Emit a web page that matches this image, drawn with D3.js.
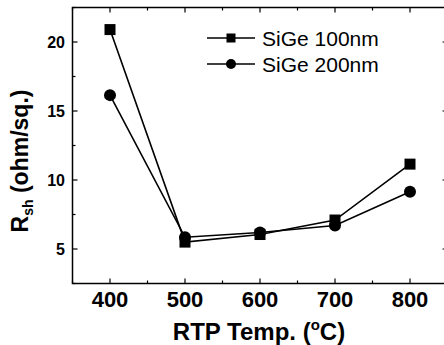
<!DOCTYPE html>
<html><head><meta charset="utf-8">
<script src="https://cdn.jsdelivr.net/npm/d3@7"></script>
<style>body{margin:0;background:#fff}svg{display:block}</style>
</head><body>
<svg id="c" width="444" height="345"></svg>
<script>
const temps = [400, 500, 600, 700, 800];
const sige100 = [20.9, 5.5, 6.05, 7.1, 11.15];
const sige200 = [16.15, 5.85, 6.2, 6.7, 9.15];
const seriesNames = ["SiGe 100nm", "SiGe 200nm"];
const xTicks = [400, 500, 600, 700, 800];
const yTicks = [5, 10, 15, 20];

const svg = d3.select("#c");
const F = "'Liberation Sans', Arial, sans-serif";
const L = 72.5, R = 447.5, T = 7.5, B = 283.5;
const x = d3.scaleLinear().domain([350, 850]).range([L, R]);
const y = d3.scaleLinear().domain([2.5, 22.5]).range([B, T]);

// frame
svg.append("rect").attr("x", L).attr("y", T).attr("width", R - L).attr("height", B - T)
  .attr("fill", "none").attr("stroke", "#000").attr("stroke-width", 1.5);

const xMinor = d3.range(350, 851, 50);
const yMinor = d3.range(2.5, 22.6, 2.5);
// inward ticks on all four sides
const g = svg.append("g").attr("stroke", "#000").attr("stroke-width", 1.2);
xMinor.forEach(v => {
  const len = (v % 100 === 0) ? 5 : 3;
  g.append("line").attr("x1", x(v)).attr("x2", x(v)).attr("y1", B).attr("y2", B - len);
  g.append("line").attr("x1", x(v)).attr("x2", x(v)).attr("y1", T).attr("y2", T + len);
});
yMinor.forEach(v => {
  const len = (v % 5 === 0) ? 5 : 3;
  g.append("line").attr("y1", y(v)).attr("y2", y(v)).attr("x1", L).attr("x2", L + len);
  g.append("line").attr("y1", y(v)).attr("y2", y(v)).attr("x1", R).attr("x2", R - len);
});

// tick labels
svg.append("g").selectAll("text").data(xTicks).join("text")
  .attr("x", d => x(d)).attr("y", B + 23).attr("text-anchor", "middle")
  .attr("font-family", F).attr("font-weight", "bold").attr("font-size", 22).text(d => d);
svg.append("g").selectAll("text").data(yTicks).join("text")
  .attr("x", 65).attr("y", d => y(d)).attr("dy", "0.36em").attr("text-anchor", "end")
  .attr("font-family", F).attr("font-weight", "bold").attr("font-size", 16).text(d => d);

// axis titles
const xt = svg.append("text").attr("x", (L + R) / 2 - 1).attr("y", 340).attr("text-anchor", "middle")
  .attr("font-family", F).attr("font-weight", "bold").attr("font-size", 24);
xt.append("tspan").text("RTP Temp. (");
xt.append("tspan").attr("font-size", 15).attr("dy", -10).text("o");
xt.append("tspan").attr("dy", 10).text("C)");

const yt = svg.append("text").attr("transform", "translate(28,161) rotate(-90)").attr("text-anchor", "middle")
  .attr("font-family", F).attr("font-weight", "bold").attr("font-size", 23);
yt.append("tspan").text("R");
yt.append("tspan").attr("font-size", 14).attr("dy", 5).text("sh");
yt.append("tspan").attr("dy", -5).text(" (ohm/sq.)");

// series
const series = [
  {name: seriesNames[0], vals: sige100, shape: "square"},
  {name: seriesNames[1], vals: sige200, shape: "circle"}
];
const line = d3.line().x(d => x(d[0])).y(d => y(d[1]));
function marker(sel, shape, cx, cy) {
  if (shape === "square") {
    sel.append("rect").attr("x", cx - 5.5).attr("y", cy - 5.5).attr("width", 11).attr("height", 11).attr("fill", "#000");
  } else {
    sel.append("circle").attr("cx", cx).attr("cy", cy).attr("r", 6).attr("fill", "#000");
  }
}
series.forEach(s => {
  const pts = temps.map((t, i) => [t, s.vals[i]]);
  svg.append("path").attr("d", line(pts)).attr("fill", "none").attr("stroke", "#000").attr("stroke-width", 1.6);
  const mg = svg.append("g");
  pts.forEach(p => marker(mg, s.shape, x(p[0]), y(p[1])));
});

// legend
series.forEach((s, i) => {
  const ly = 38 + i * 26;
  const lg = svg.append("g");
  lg.append("line").attr("x1", 207).attr("x2", 255).attr("y1", ly).attr("y2", ly).attr("stroke", "#000").attr("stroke-width", 1.6);
  if (s.shape === "square") {
    lg.append("rect").attr("x", 231 - 4.5).attr("y", ly - 4.5).attr("width", 9).attr("height", 9).attr("fill", "#000");
  } else {
    lg.append("circle").attr("cx", 231).attr("cy", ly).attr("r", 5).attr("fill", "#000");
  }
  lg.append("text").attr("x", 262).attr("y", ly).attr("dy", "0.36em")
    .attr("font-family", F).attr("font-size", 21).text(s.name);
});
</script>
</body></html>
